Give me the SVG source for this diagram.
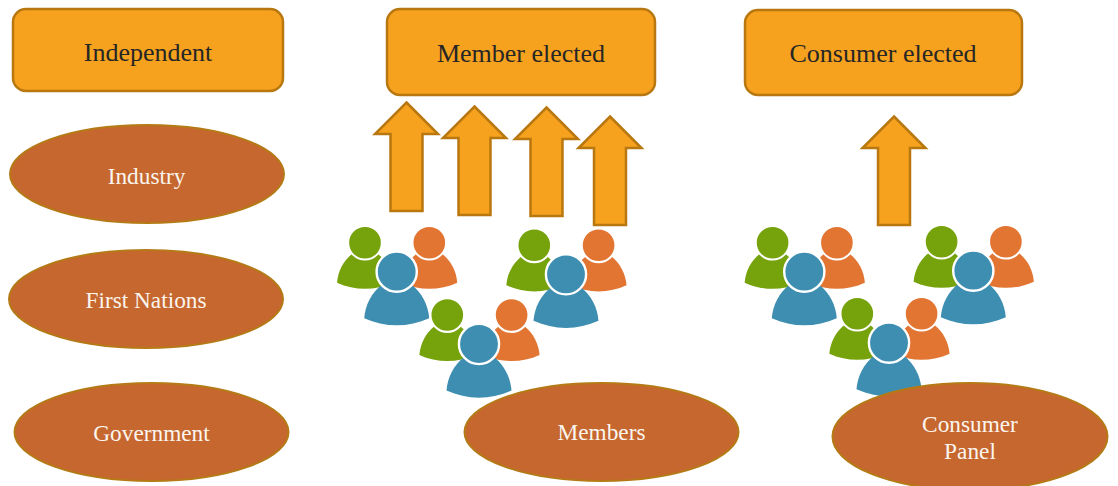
<svg xmlns="http://www.w3.org/2000/svg" xmlns:xlink="http://www.w3.org/1999/xlink" width="1118" height="486" viewBox="0 0 1118 486">
<style>
text{font-family:"Liberation Serif","Times New Roman",serif;text-anchor:middle}
.box{fill:#f6a21e;stroke:#b8770f;stroke-width:2.5}
.boxt{fill:#262626;font-size:26px}
.ell{fill:#c5672e;stroke:#b57a16;stroke-width:2}
.ellt{fill:#fbf5ee;font-size:23.3px}
.arrow{fill:#f6a21e;stroke:#b8770f;stroke-width:2.5}
.g{fill:#76a20c}.o{fill:#e27532}.b{fill:#3d8eb1}
.h{stroke:#fff;stroke-width:2.4}
</style>
<defs>
<path id="body" d="M-32.5 46.5C-31.5 33-25 21-15 13L15 13C25 21 31.5 33 32.5 46.5C12 56-12 56-32.5 46.5Z"/>
<g id="people">
<g class="g" transform="translate(-31.7 -29) scale(.86)"><use xlink:href="#body" href="#body"/><circle class="h" r="19.6"/></g>
<g class="o" transform="translate(32.6 -29) scale(.86)"><use xlink:href="#body" href="#body"/><circle class="h" r="19.6"/></g>
<g class="b"><use xlink:href="#body" href="#body"/><circle class="h" r="20.1"/></g>
</g>
<path id="arrow" d="M0 0L31.5 31.5H16V108.500H-16V31.500H-31.500Z"/>
</defs>
<g id="connectors">
<use class="arrow" xlink:href="#arrow" href="#arrow" transform="translate(406.5 102.5)"/>
<use class="arrow" xlink:href="#arrow" href="#arrow" transform="translate(474.5 106.5)"/>
<use class="arrow" xlink:href="#arrow" href="#arrow" transform="translate(546.5 107.5)"/>
<use class="arrow" xlink:href="#arrow" href="#arrow" transform="translate(610 116.5)"/>
<use class="arrow" xlink:href="#arrow" href="#arrow" transform="translate(894 116.5)"/>
</g>
<g id="people-members">
<use xlink:href="#people" href="#people" transform="translate(396.7 271.7)"/>
<use xlink:href="#people" href="#people" transform="translate(566 274.3)"/>
<use xlink:href="#people" href="#people" transform="translate(479 344)"/>
</g>
<g id="people-consumers">
<use xlink:href="#people" href="#people" transform="translate(804.3 271.7)"/>
<use xlink:href="#people" href="#people" transform="translate(973.3 270.7)"/>
<use xlink:href="#people" href="#people" transform="translate(889 342.7)"/>
</g>
<g id="independent"><rect class="box" x="13" y="9" width="270" height="82" rx="13"/><text class="boxt" x="148" y="60.800">Independent</text></g>
<g id="member-elected"><rect class="box" x="387" y="9" width="268" height="86" rx="13"/><text class="boxt" x="521" y="61.800">Member elected</text></g>
<g id="consumer-elected"><rect class="box" x="745" y="10" width="277" height="85" rx="13"/><text class="boxt" x="883" y="61.800">Consumer elected</text></g>
<g id="industry"><ellipse class="ell" cx="147" cy="174" rx="137" ry="49"/><text class="ellt" x="146.500" y="183.800">Industry</text></g>
<g id="first-nations"><ellipse class="ell" cx="146" cy="299" rx="137" ry="49"/><text class="ellt" x="146" y="307.500">First Nations</text></g>
<g id="government"><ellipse class="ell" cx="151.5" cy="432" rx="137" ry="49"/><text class="ellt" x="151.500" y="440.500">Government</text></g>
<g id="members"><ellipse class="ell" cx="601.5" cy="432" rx="137" ry="49"/><text class="ellt" x="601.500" y="440">Members</text></g>
<g id="consumer-panel"><ellipse class="ell" cx="970" cy="436.5" rx="137.5" ry="53.5"/><text class="ellt" x="970" y="432">Consumer</text><text class="ellt" x="970" y="459">Panel</text></g>
</svg>
